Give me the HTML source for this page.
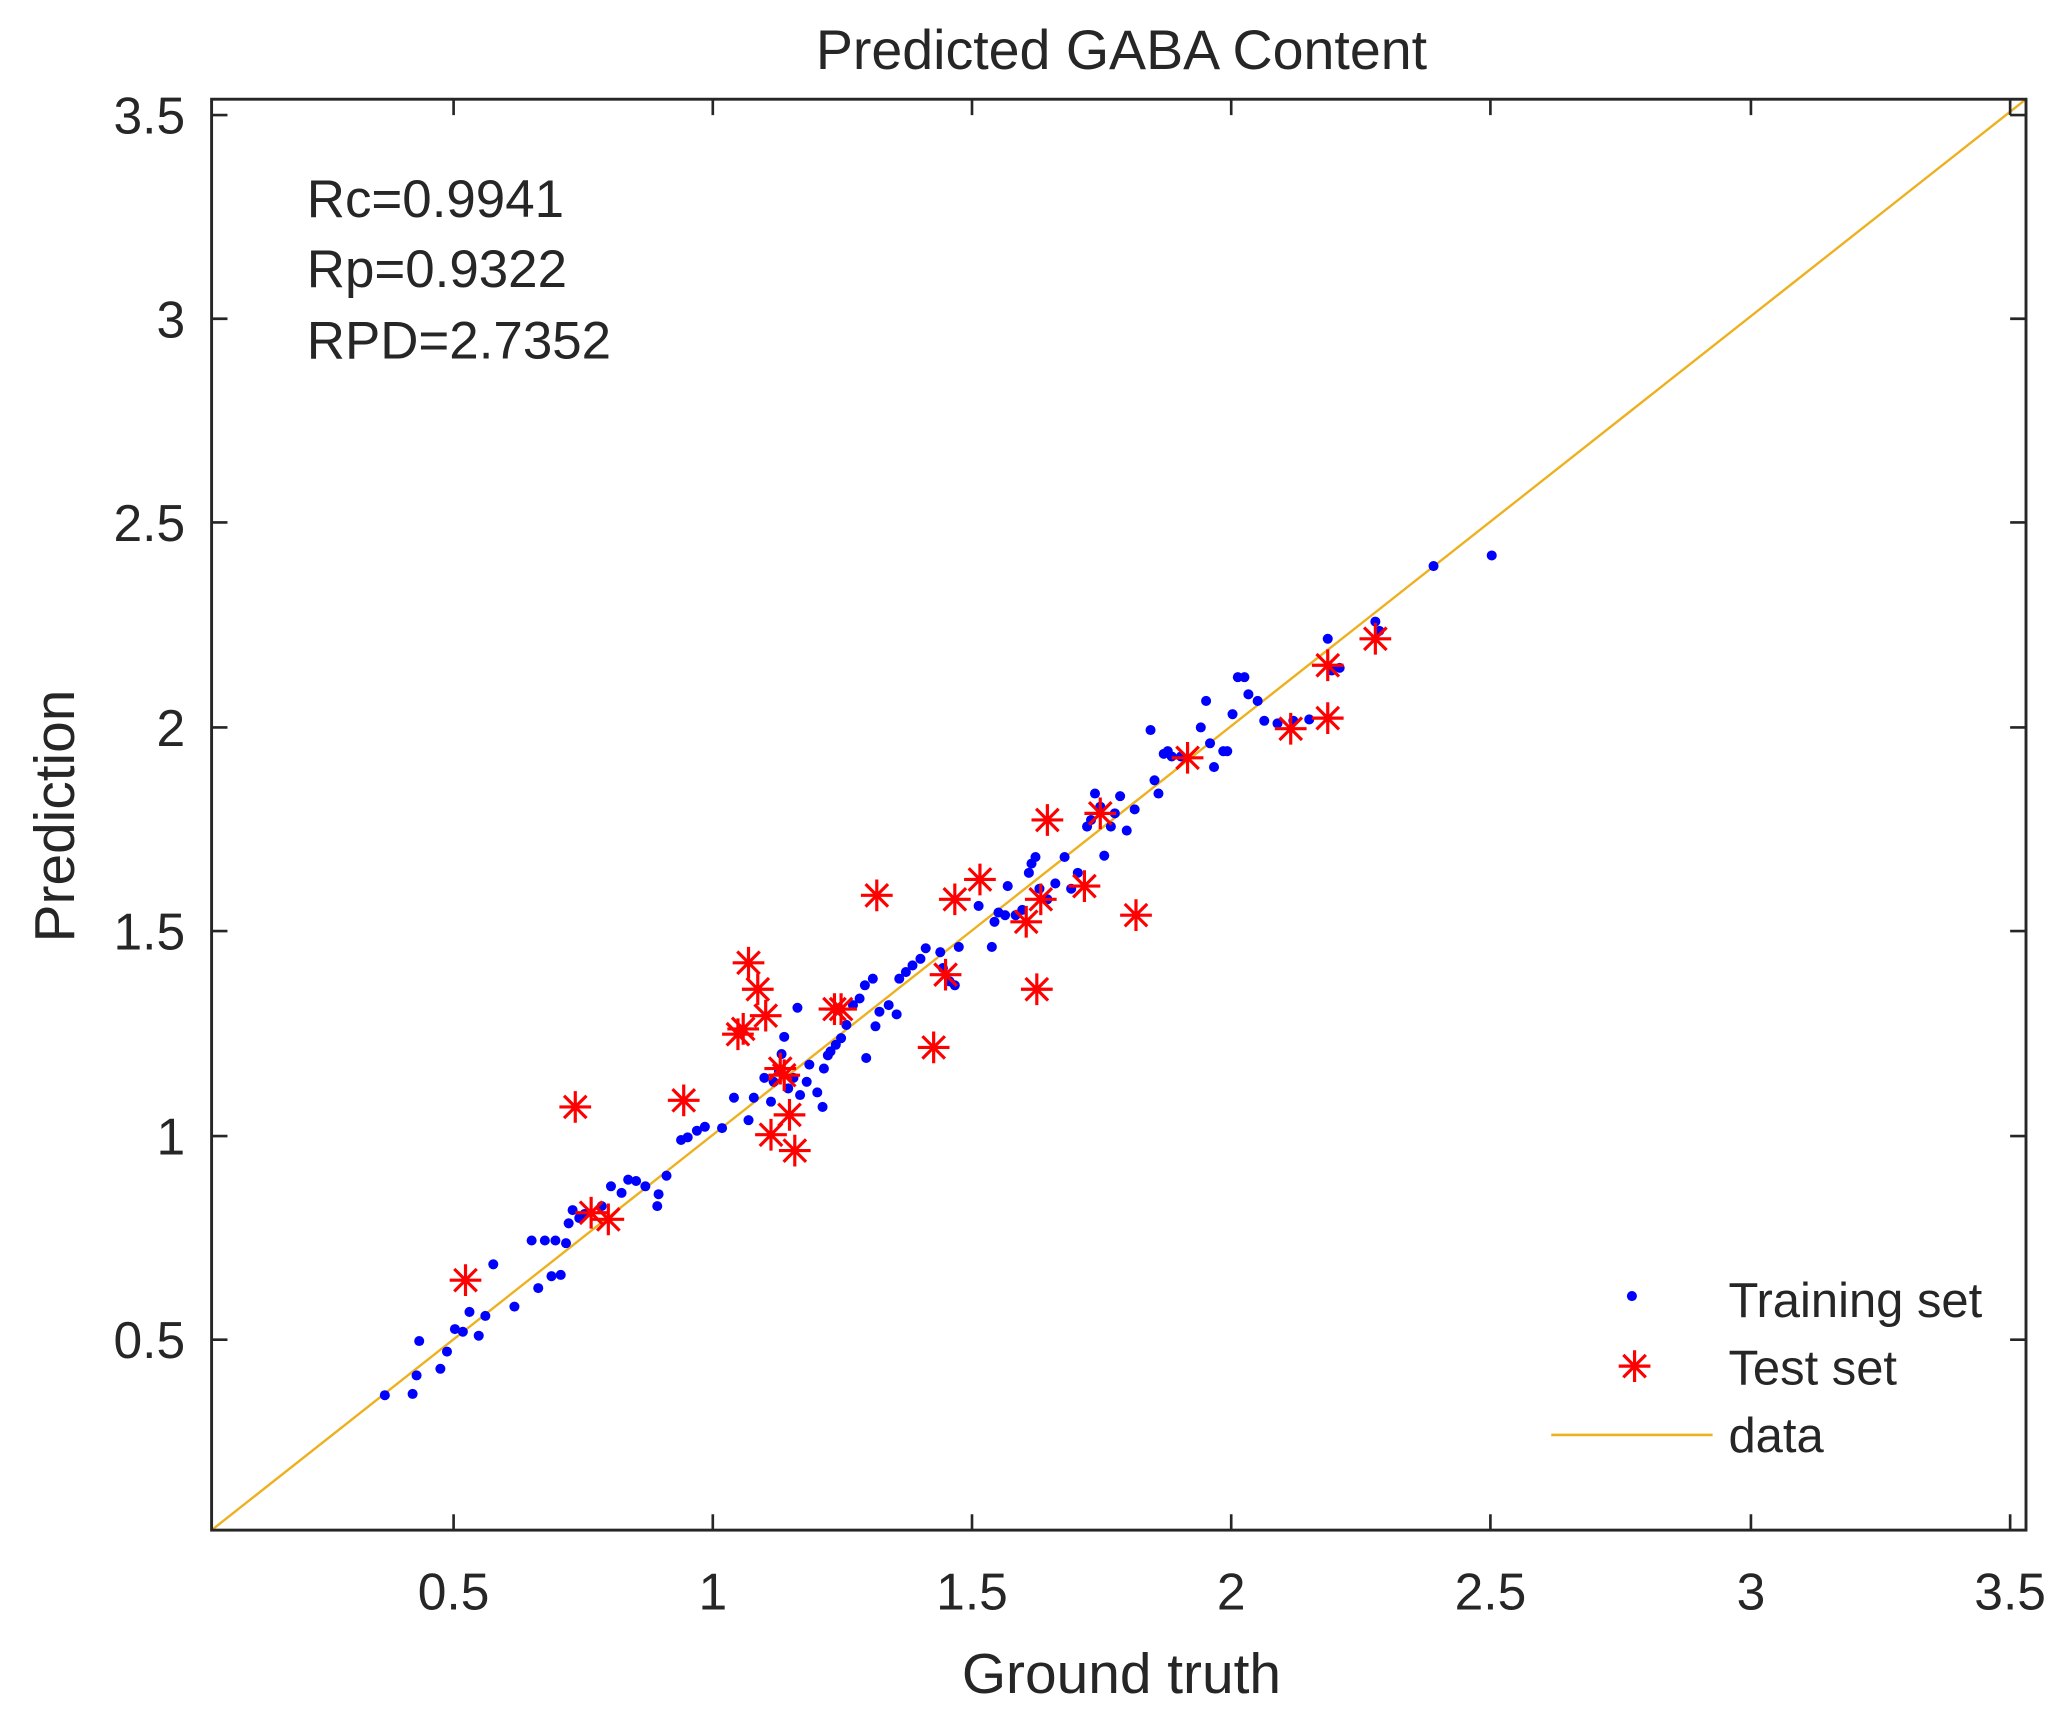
<!DOCTYPE html>
<html><head><meta charset="utf-8"><style>html,body{margin:0;padding:0;background:#fff}svg{display:block}text{font-family:"Liberation Sans",sans-serif;fill:#262626}</style></head>
<body>
<svg width="2067" height="1712" viewBox="0 0 1563 1294.5" xmlns="http://www.w3.org/2000/svg">
<defs>
<g id="st"><path d="M-12 0H12M0-12V12M-8.5-8.5L8.5 8.5M-8.5 8.5L8.5-8.5" stroke="#ff0000" stroke-width="2.4"/></g>
</defs>
<rect width="1563" height="1295" fill="#fff"/>
<text x="848" y="52" font-size="42" text-anchor="middle">Predicted GABA Content</text>
<line x1="160" y1="1157" x2="1532" y2="75" stroke="#edb120" stroke-width="1.8"/>
<g id="dots" fill="#0000ff"></g>
<g id="stars"></g>
<rect x="160" y="75" width="1372" height="1082" fill="none" stroke="#262626" stroke-width="2.2"/>
<g stroke="#262626" stroke-width="2" id="ticks"></g>
<g font-size="39" text-anchor="middle">
<text x="343" y="1217">0.5</text><text x="539" y="1217">1</text><text x="735" y="1217">1.5</text><text x="931" y="1217">2</text><text x="1127" y="1217">2.5</text><text x="1324" y="1217">3</text><text x="1520" y="1217">3.5</text>
</g>
<g font-size="39" text-anchor="end">
<text x="140" y="1027">0.5</text><text x="140" y="873">1</text><text x="140" y="718">1.5</text><text x="140" y="564">2</text><text x="140" y="409">2.5</text><text x="140" y="255">3</text><text x="140" y="101">3.5</text>
</g>
<text x="848" y="1280" font-size="43" text-anchor="middle">Ground truth</text>
<text transform="translate(56,617) rotate(-90)" font-size="43" text-anchor="middle">Prediction</text>
<g font-size="40">
<text x="232" y="164">Rc=0.9941</text>
<text x="232" y="217">Rp=0.9322</text>
<text x="232" y="271">RPD=2.7352</text>
</g>
<circle cx="1234" cy="980" r="3.8" fill="#0000ff"/>
<use href="#st" x="1236" y="1033"/>
<line x1="1173" y1="1085" x2="1295" y2="1085" stroke="#edb120" stroke-width="2"/>
<g font-size="37">
<text x="1307" y="996">Training set</text>
<text x="1307" y="1047">Test set</text>
<text x="1307" y="1098">data</text>
</g>
<script>
var ns="http://www.w3.org/2000/svg";
var D=[[291,1055],[312,1054],[315,1040],[317,1014],[333,1035],[338,1022],[344,1005],[350,1007],[355,992],[362,1010],[367,995],[373,956],[389,988],[402,938],[407,974],[412,938],[417,965],[420,938],[424,964],[428,940],[430,925],[433,915],[438,921],[442,918],[455,912],[462,897],[470,902],[475,892],[481,893],[488,897],[497,912],[498,903],[504,889],[515,862],[520,860],[527,855],[533,852],[546,853],[555,830],[566,847],[570,830],[578,815],[583,833],[585,818],[589,810],[591,797],[593,784],[596,823],[600,815],[603,762],[605,828],[610,818],[612,805],[618,826],[622,837],[623,808],[626,798],[628,795],[632,790],[636,785],[640,775],[645,760],[650,755],[654,745],[655,800],[660,740],[662,776],[665,765],[672,760],[678,767],[680,740],[685,735],[690,730],[696,725],[700,717],[711,720],[713,732],[718,742],[722,745],[725,716],[740,685],[750,716],[752,697],[755,690],[760,692],[762,670],[768,692],[773,688],[778,660],[780,653],[783,648],[786,672],[792,680],[798,668],[805,648],[810,672],[815,660],[822,625],[825,620],[828,600],[832,610],[835,647],[840,625],[843,615],[847,602],[852,628],[858,612],[870,552],[873,590],[876,600],[880,570],[883,568],[886,572],[893,572],[908,550],[912,530],[915,562],[918,580],[925,568],[928,568],[932,540],[936,512],[941,512],[944,525],[951,530],[956,545],[966,547],[978,545],[990,544],[1004,483],[1007,507],[1013,505],[1040,470],[1043,477],[1084,428],[1128,420]];
var S=[[352,968],[435,837],[447,917],[460,922],[517,832],[558,782],[566,728],[573,748],[579,768],[562,778],[583,858],[590,808],[597,843],[601,870],[593,813],[631,763],[636,763],[663,677],[706,792],[715,737],[722,680],[741,665],[776,697],[784,748],[787,680],[792,620],[820,670],[832,615],[859,692],[898,573],[976,551],[1004,503],[1004,543],[1040,483]];
var g=document.getElementById("dots");
D.forEach(function(p){var c=document.createElementNS(ns,"circle");c.setAttribute("cx",p[0]);c.setAttribute("cy",p[1]);c.setAttribute("r",3.8);g.appendChild(c);});
var s=document.getElementById("stars");
S.forEach(function(p){var u=document.createElementNS(ns,"use");u.setAttribute("href","#st");u.setAttribute("x",p[0]);u.setAttribute("y",p[1]);s.appendChild(u);});
var t=document.getElementById("ticks"),d="";
[343,539,735,931,1127,1324,1520].forEach(function(x){d+="M"+x+" 1157V1145M"+x+" 75V87";});
[1013,859,704,550,395,241,87].forEach(function(y){d+="M160 "+y+"H172M1532 "+y+"H1520";});
var pa=document.createElementNS(ns,"path");pa.setAttribute("d",d);pa.setAttribute("fill","none");t.appendChild(pa);
</script>
</svg>
</body></html>
